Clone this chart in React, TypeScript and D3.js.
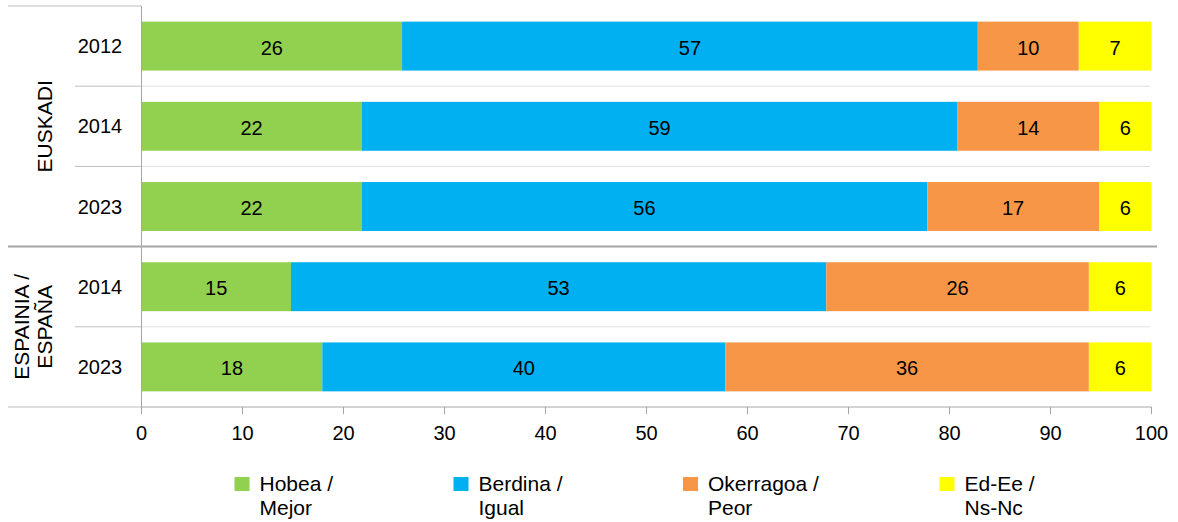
import React from "react";
import * as d3 from "d3";

const rowYears = ["2012", "2014", "2023", "2014", "2023"];
const rowGroupIds = ["eus", "eus", "eus", "esp", "esp"];
const groupIds = ["eus", "esp"];
const groupLabels = [["EUSKADI"], ["ESPAINIA /", "ESPAÑA"]];

const hobea = [25.8, 21.8, 21.8, 14.8, 17.9];
const berdina = [57.0, 59.0, 56.0, 53.0, 39.9];
const okerragoa = [10.0, 14.0, 17.0, 26.0, 36.0];
const edEe = [7.2, 5.6, 5.6, 6.2, 6.2];

const seriesKeys = ["hobea", "berdina", "okerragoa", "edEe"];
const seriesLegend = [
  ["Hobea /", "Mejor"],
  ["Berdina /", "Igual"],
  ["Okerragoa /", "Peor"],
  ["Ed-Ee /", "Ns-Nc"],
];
const seriesColors = ["#92D050", "#00B0F0", "#F79646", "#FFFF00"];
const xTicks = [0, 10, 20, 30, 40, 50, 60, 70, 80, 90, 100];

const W = 1178;
const H = 522;
const FONT = "'Liberation Sans', Arial, sans-serif";
const GRID = "#BFBFBF";
const AXIS = "#A6A6A6";

const legendX = [234.5, 453.5, 683, 939.5];

export default function App() {
  const rows = rowYears.map((y, i) => ({
    id: String(i),
    year: y,
    group: rowGroupIds[i],
    hobea: hobea[i],
    berdina: berdina[i],
    okerragoa: okerragoa[i],
    edEe: edEe[i],
  }));

  const x = d3.scaleLinear().domain([0, 100]).range([141.5, 1151.5]).clamp(true);
  const yBand = d3
    .scaleBand<string>()
    .domain(rows.map((r) => r.id))
    .range([6, 407])
    .paddingInner(0.39)
    .paddingOuter(0.195);
  const step = yBand.step();
  const bw = yBand.bandwidth();
  const top = 6;
  const bottom = 407;

  const stacked = d3.stack<any>().keys(seriesKeys)(rows);
  const fmt = d3.format(".0f");

  // row boundaries
  const boundaries = d3.range(1, rows.length).map((i) => ({
    y: top + i * step,
    isGroup: rows[i].group !== rows[i - 1].group,
  }));

  return (
    <div style={{ position: "absolute", left: 0, top: 0 }}>
      <svg width={W} height={H} style={{ display: "block", fontFamily: FONT }}>
        <rect width={W} height={H} fill="#fff" />

        {/* separators */}
        {boundaries.map((b, i) =>
          b.isGroup ? (
            <line key={"g" + i} x1={8} x2={1157} y1={b.y} y2={b.y} stroke={AXIS} strokeWidth={2} />
          ) : (
            <g key={"r" + i}>
              <line x1={75} x2={x(0)} y1={b.y} y2={b.y} stroke={GRID} strokeWidth={1} />
              <line x1={x(0)} x2={1150} y1={b.y} y2={b.y} stroke={GRID} strokeWidth={1} strokeDasharray="1,1" />
            </g>
          )
        )}
        <line x1={8} x2={x(0)} y1={top} y2={top} stroke={GRID} strokeWidth={1} />
        <line x1={8} x2={x(0)} y1={bottom} y2={bottom} stroke={GRID} strokeWidth={1} />

        {/* bars */}
        {stacked.map((layer, si) => (
          <g key={layer.key}>
            {layer.map((d, ri) => {
              const x0 = x(d[0]);
              const x1 = x(d[1]);
              const yy = yBand(rows[ri].id)!;
              return (
                <g key={ri}>
                  <rect x={x0} y={yy} width={Math.max(0, x1 - x0)} height={bw} fill={seriesColors[si]} />
                  <text
                    x={(x0 + x1) / 2}
                    y={yy + bw / 2 + 1.5}
                    dy="0.35em"
                    textAnchor="middle"
                    fontSize={20}
                    fill="#000"
                  >
                    {fmt(d[1] - d[0])}
                  </text>
                </g>
              );
            })}
          </g>
        ))}

        {/* y axis line */}
        <line x1={x(0)} x2={x(0)} y1={top} y2={bottom + 7} stroke={AXIS} strokeWidth={1} />
        {/* x axis */}
        <line x1={x(0)} x2={x(100)} y1={bottom} y2={bottom} stroke={AXIS} strokeWidth={1} />
        {xTicks.map((t) => (
          <g key={t}>
            <line x1={x(t)} x2={x(t)} y1={bottom} y2={bottom + 7} stroke={AXIS} strokeWidth={1} />
            <text x={x(t)} y={bottom + 33} textAnchor="middle" fontSize={20} fill="#000">
              {t}
            </text>
          </g>
        ))}

        {/* year labels */}
        {rows.map((r) => (
          <text
            key={r.id}
            x={100}
            y={yBand(r.id)! + bw / 2}
            dy="0.35em"
            textAnchor="middle"
            fontSize={20}
            fill="#000"
          >
            {r.year}
          </text>
        ))}

        {/* group labels */}
        {groupIds.map((g, gi) => {
          const ids = rows.filter((r) => r.group === g).map((r) => yBand(r.id)! + bw / 2);
          const cy = d3.mean(ids)!;
          const lines = groupLabels[gi];
          return lines.map((ln, li) => {
            const cx = 45 - 23.5 * (lines.length - 1 - li);
            return (
              <text
                key={g + li}
                transform={`translate(${cx},${cy}) rotate(-90)`}
                dy="0.35em"
                textAnchor="middle"
                fontSize={21}
                fill="#000"
              >
                {ln}
              </text>
            );
          });
        })}

        {/* legend */}
        {seriesKeys.map((k, i) => (
          <g key={k} transform={`translate(${legendX[i]},477)`}>
            <rect x={0} y={0} width={15} height={14} fill={seriesColors[i]} />
            {seriesLegend[i].map((ln, li) => (
              <text key={li} x={25} y={14 + li * 24} fontSize={21} fill="#000">
                {ln}
              </text>
            ))}
          </g>
        ))}
      </svg>
    </div>
  );
}
